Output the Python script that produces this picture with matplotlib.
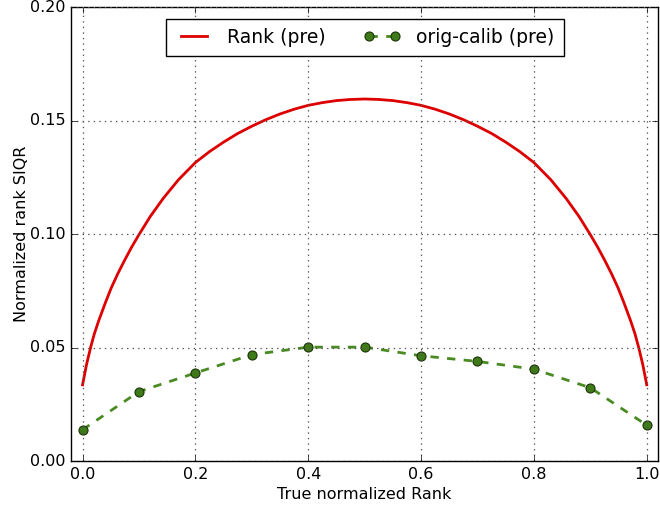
import matplotlib

matplotlib.use("Agg")
import matplotlib.pyplot as plt

plt.style.use("classic")
plt.rcParams.update(
    {
        "font.family": "DejaVu Sans",
        "font.size": 11.5,
        "figure.facecolor": "white",
        "savefig.facecolor": "white",
    }
)

# Rank (pre): smooth curve
rank_x = [0.0, 0.007, 0.0142, 0.021, 0.0284, 0.040, 0.0508, 0.0625, 0.0745,
          0.087, 0.100, 0.120, 0.143, 0.170, 0.200, 0.225, 0.250, 0.275,
          0.300, 0.325, 0.350, 0.375, 0.400, 0.425, 0.450, 0.475, 0.500,
          0.525, 0.550, 0.575, 0.600, 0.625, 0.650, 0.675, 0.700, 0.725,
          0.750, 0.775, 0.800, 0.830, 0.857, 0.880, 0.900, 0.913, 0.9255,
          0.9375, 0.9492, 0.960, 0.9716, 0.979, 0.9858, 0.993, 1.0]
rank_y = [0.0336, 0.0425, 0.0500, 0.0562, 0.0617, 0.0695, 0.0763, 0.0826, 0.0885,
          0.0943, 0.0998, 0.1078, 0.1158, 0.1240, 0.1316, 0.1364, 0.1406, 0.1444,
          0.1476, 0.1505, 0.1530, 0.1551, 0.1568, 0.1580, 0.1589, 0.1594, 0.1596,
          0.1594, 0.1589, 0.1580, 0.1568, 0.1551, 0.1530, 0.1505, 0.1476, 0.1444,
          0.1406, 0.1364, 0.1316, 0.1240, 0.1158, 0.1078, 0.0998, 0.0943, 0.0885,
          0.0826, 0.0763, 0.0695, 0.0617, 0.0562, 0.0500, 0.0425, 0.0336]

# orig-calib (pre): points
calib_x = [0.0, 0.1, 0.2, 0.3, 0.4, 0.5, 0.6, 0.7, 0.8, 0.9, 1.0]
calib_y = [0.0138, 0.0306, 0.0388, 0.0469, 0.0502, 0.0502, 0.0464, 0.0439,
           0.0405, 0.0323, 0.0158]

fig = plt.figure(figsize=(6.6, 5.08), dpi=100)
ax = fig.add_axes([0.108, 0.0925, 0.889, 0.893])

ax.plot(rank_x, rank_y, color="#dd0000", lw=2, label="Rank (pre)")
ax.plot(calib_x, calib_y, color="#4a8a22", lw=2, linestyle="--", marker="o",
        markersize=6.5, markerfacecolor="#3f7a18", markeredgecolor="#1a3308",
        markeredgewidth=0.8, label="orig-calib (pre)")

ax.set_xlim(-0.02, 1.02)
ax.set_ylim(0.0, 0.20)
ax.set_xticks([0.0, 0.2, 0.4, 0.6, 0.8, 1.0])
ax.set_yticks([0.00, 0.05, 0.10, 0.15, 0.20])
ax.grid(True, linestyle=":", color="#555555", lw=0.9)
ax.set_xlabel("True normalized Rank", labelpad=4)
ax.set_ylabel("Normalized rank SIQR", labelpad=1)

ax.legend(loc="upper center", ncol=2, numpoints=2, fontsize=13.5,
          handlelength=2, columnspacing=2.0, borderaxespad=0.6, borderpad=0.5)

fig.savefig("out.png", dpi=100)
